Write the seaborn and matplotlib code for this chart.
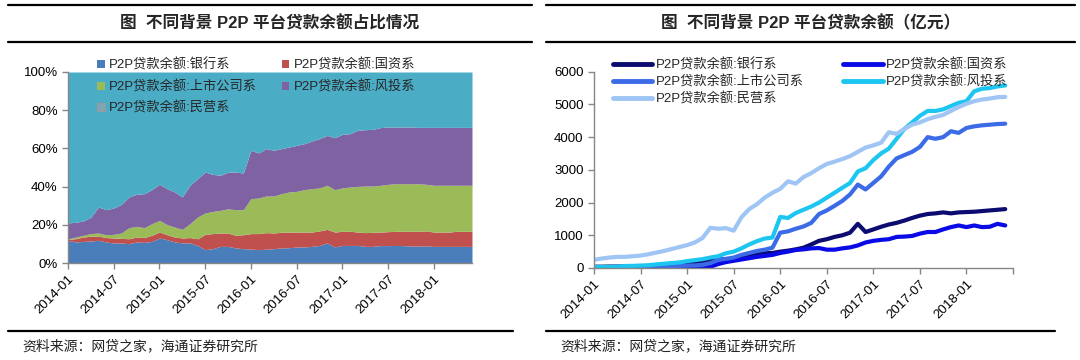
import matplotlib
matplotlib.use('Agg')
import matplotlib.pyplot as plt
import seaborn as sns
from matplotlib.lines import Line2D
from matplotlib.patches import Patch
from matplotlib.ticker import PercentFormatter

sns.set_style('ticks')
plt.rcParams['font.family'] = ['Liberation Sans', 'Noto Sans CJK SC', 'DejaVu Sans']

# monthly data, 2014-01 .. 2018-06
tick_labels = ['2014-01', '2014-07', '2015-01', '2015-07', '2016-01',
               '2016-07', '2017-01', '2017-07', '2018-01']
names = ['P2P贷款余额:银行系', 'P2P贷款余额:国资系', 'P2P贷款余额:上市公司系',
         'P2P贷款余额:风投系', 'P2P贷款余额:民营系']

# share of total balance (%)
share_bank = [11.9, 11.0, 11.3, 11.5, 11.9, 11.0, 10.5, 10.5, 10.1, 11.0, 10.8, 11.3,
              13.1, 12.2, 11.0, 10.5, 10.5, 9.2, 7.0, 7.5, 8.7, 8.7, 7.9, 7.5,
              7.3, 7.0, 7.2, 7.5, 7.9, 8.0, 8.4, 8.4, 8.7, 9.2, 10.5, 8.4,
              9.2, 9.2, 9.2, 8.7, 8.7, 9.1, 9.1, 9.2, 9.1, 8.9, 8.9, 8.9,
              8.7, 8.7, 8.7, 8.7, 8.7, 8.7]
share_state = [0.5, 1.7, 2.3, 2.5, 2.2, 2.3, 2.6, 2.4, 2.6, 2.6, 2.5, 3.2,
               3.1, 2.6, 2.6, 2.6, 2.8, 3.5, 8.0, 7.9, 7.0, 7.0, 6.6, 7.3,
               8.1, 8.4, 8.7, 8.2, 8.2, 8.1, 7.8, 7.8, 7.5, 7.6, 7.1, 7.8,
               7.4, 7.4, 7.0, 7.2, 7.4, 7.1, 7.3, 7.4, 7.5, 7.7, 7.7, 7.9,
               7.5, 7.5, 7.5, 7.9, 7.9, 7.9]
share_listed = [0.2, 0.9, 0.9, 1.4, 1.6, 1.5, 1.9, 2.8, 5.8, 5.6, 5.2, 6.1,
                6.1, 5.3, 5.2, 4.5, 7.3, 11.4, 11.2, 11.6, 11.9, 12.7, 13.4, 13.1,
                18.3, 18.6, 19.2, 19.4, 20.2, 21.1, 21.3, 22.2, 22.7, 22.5, 23.1, 22.2,
                22.7, 23.2, 23.9, 24.4, 24.2, 24.5, 24.8, 24.9, 24.9, 24.9, 24.9, 24.4,
                24.5, 24.5, 24.5, 24.1, 24.1, 24.1]
share_vc = [8.4, 7.7, 7.5, 8.6, 13.6, 13.1, 13.8, 15.0, 16.1, 16.8, 17.8, 17.8,
            18.9, 18.8, 18.4, 17.0, 20.1, 20.1, 21.4, 19.4, 18.3, 19.2, 19.7, 19.2,
            25.3, 23.6, 24.8, 23.9, 23.6, 23.5, 24.1, 24.1, 25.0, 25.8, 26.1, 27.2,
            28.1, 27.9, 29.4, 29.5, 29.7, 30.2, 30.0, 29.7, 29.7, 29.7, 29.5, 29.8,
            30.3, 30.3, 30.3, 30.3, 30.3, 30.3]
share_private = [79.0, 78.7, 78.0, 76.0, 70.7, 72.1, 71.2, 69.3, 65.4, 64.0, 63.7, 61.6,
                 58.8, 61.1, 62.8, 65.4, 59.3, 55.8, 52.4, 53.6, 54.1, 52.4, 52.4, 52.9,
                 41.0, 42.4, 40.1, 41.0, 40.1, 39.3, 38.4, 37.5, 36.1, 34.9, 33.2, 34.4,
                 32.6, 32.3, 30.5, 30.2, 30.0, 29.1, 28.8, 28.8, 28.8, 28.8, 29.0, 29.0,
                 29.0, 29.0, 29.0, 29.0, 29.0, 29.0]

# loan balance (亿元)
bal_bank = [40, 40, 45, 45, 50, 50, 55, 60, 70, 80, 90, 100,
            130, 140, 170, 220, 270, 260, 280, 340, 390, 430, 450, 460,
            500, 530, 570, 620, 720, 830, 880, 950, 1000, 1080, 1350, 1100,
            1180, 1260, 1330, 1380, 1450, 1530, 1600, 1650, 1670, 1700, 1670, 1700,
            1710, 1720, 1740, 1760, 1780, 1800]
bal_state = [2, 3, 5, 8, 10, 10, 12, 14, 15, 18, 20, 22,
             25, 28, 32, 40, 120, 180, 220, 260, 300, 340, 370, 400,
             460, 500, 550, 570, 600, 610, 560, 560, 600, 630, 690, 780,
             830, 860, 880, 950, 960, 980, 1050, 1100, 1100, 1180, 1250, 1300,
             1250, 1300, 1250, 1260, 1350, 1300]
bal_listed = [1, 3, 4, 5, 6, 7, 10, 15, 40, 50, 55, 65,
              75, 80, 100, 150, 250, 280, 320, 400, 460, 520, 560, 620,
              1080, 1120, 1200, 1270, 1380, 1650, 1760, 1900, 2050, 2250, 2550, 2400,
              2600, 2800, 3100, 3350, 3450, 3550, 3700, 4000, 3950, 4000, 4180, 4130,
              4280, 4330, 4360, 4380, 4400, 4410]
bal_vc = [30, 30, 35, 40, 60, 65, 75, 85, 110, 130, 150, 170,
          210, 240, 270, 320, 360, 450, 500, 600, 720, 820, 900, 930,
          1560, 1530, 1680, 1780, 1880, 2000, 2150, 2300, 2450, 2600, 2950, 3050,
          3300, 3500, 3650, 3950, 4250, 4450, 4650, 4800, 4800, 4850, 4950, 5050,
          5100, 5400, 5480, 5500, 5550, 5580]
bal_private = [250, 290, 320, 340, 340, 360, 380, 420, 470, 520, 580, 640,
               700, 780, 920, 1230, 1200, 1220, 1140, 1550, 1800, 1950, 2150, 2300,
               2420, 2650, 2580, 2780, 2900, 3050, 3180, 3250, 3330, 3420, 3550, 3680,
               3750, 3830, 4150, 4100, 4250, 4380, 4450, 4550, 4620, 4680, 4800, 4920,
               5020, 5100, 5150, 5180, 5220, 5230]

months = list(range(len(bal_bank)))
area_colors = ['#4a7ebb', '#c0504d', '#9bbb59', '#7f62a1', '#4bacc6']
line_colors = ['#0b0b70', '#0a0ae6', '#3b6be6', '#1cc6f0', '#9fc5f5']
axis_gray = '#868686'

W, H = 1080, 360
fig = plt.figure(figsize=(W / 100, H / 100), dpi=100)


def px(x0, y0, x1, y1):
    return [x0 / W, 1 - y1 / H, (x1 - x0) / W, (y1 - y0) / H]


def frame(x0, x1, xb, title):
    for y in (5, 42):
        fig.add_artist(Line2D([x0 / W, x1 / W], [1 - y / H] * 2, color='black', lw=1.6))
    fig.add_artist(Line2D([x0 / W, xb / W], [1 - 331 / H] * 2, color='black', lw=1.6))
    fig.text((x0 + x1) / 2 / W, 1 - 23 / H, title, ha='center', va='center',
             fontsize=12, fontweight='bold', family=['Liberation Sans', 'Noto Sans CJK SC'])
    fig.text((x0 + 14) / W, 1 - 346 / H, '资料来源：网贷之家，海通证券研究所',
             ha='left', va='center', fontsize=10, color='#222222')


def style_axis(ax, xmax):
    for s in ('top', 'right'):
        ax.spines[s].set_visible(False)
    for s in ('left', 'bottom'):
        ax.spines[s].set_color(axis_gray)
        ax.spines[s].set_linewidth(1.0)
    ax.set_xlim(0, xmax)
    ticks = list(range(0, xmax + 1, 6))
    ax.set_xticks(ticks)
    labs = tick_labels + [''] * (len(ticks) - len(tick_labels))
    ax.set_xticklabels(labs, rotation=45, ha='right', rotation_mode='anchor', fontsize=9.5)
    ax.tick_params(axis='both', colors=axis_gray, labelcolor='black', length=4, width=1)
    ax.tick_params(axis='y', labelsize=9.5)
    ax.set_xlabel('')
    ax.set_ylabel('')


# --- left: share stacked area ---
frame(8, 532, 513, '图  不同背景 P2P 平台贷款余额占比情况')
ax1 = fig.add_axes(px(68, 72, 472, 263))
ax1.stackplot(months, share_bank, share_state, share_listed, share_vc, share_private,
              colors=area_colors, lw=0)
ax1.set_ylim(0, 100)
ax1.set_yticks(range(0, 101, 20))
ax1.yaxis.set_major_formatter(PercentFormatter(decimals=0))
style_axis(ax1, 53)
ax1.set_xticks(range(0, 49, 6))
ax1.set_xticklabels(tick_labels, rotation=45, ha='right', rotation_mode='anchor', fontsize=9.5)

handles = [Patch(facecolor=c, edgecolor='none') for c in area_colors]
handles[4] = Patch(facecolor='#7ea6b4', edgecolor='#9a9a9a', lw=0.8)
order = [0, 2, 4, 1, 3]
ax1.legend([handles[i] for i in order], [names[i] for i in order], ncol=2,
           loc='upper left', bbox_to_anchor=(90 / W, 1 - 52 / H),
           bbox_transform=fig.transFigure, frameon=False, fontsize=9.5,
           handlelength=0.6, handleheight=0.6, handletextpad=0.3,
           labelspacing=0.62, columnspacing=1.9, borderpad=0)

# --- right: balance lines ---
frame(546, 1075, 1055, '图  不同背景 P2P 平台贷款余额（亿元）')
ax2 = fig.add_axes(px(594, 71.7, 1013, 268))
for vals, c in zip([bal_bank, bal_state, bal_listed, bal_vc, bal_private], line_colors):
    sns.lineplot(x=months, y=vals, ax=ax2, color=c, lw=3, legend=False)
ax2.set_ylim(0, 6000)
ax2.set_yticks(range(0, 6001, 1000))
style_axis(ax2, 54)

lh = [Line2D([], [], color=c, lw=3.5) for c in line_colors]
ax2.legend([lh[i] for i in order], [names[i] for i in order], ncol=2,
           loc='upper left', bbox_to_anchor=(606 / W, 1 - 52 / H),
           bbox_transform=fig.transFigure, frameon=False, fontsize=9.5,
           handlelength=3.0, handletextpad=0.25, labelspacing=0.28,
           columnspacing=3.0, borderpad=0)

fig.savefig('out.png', dpi=100)
